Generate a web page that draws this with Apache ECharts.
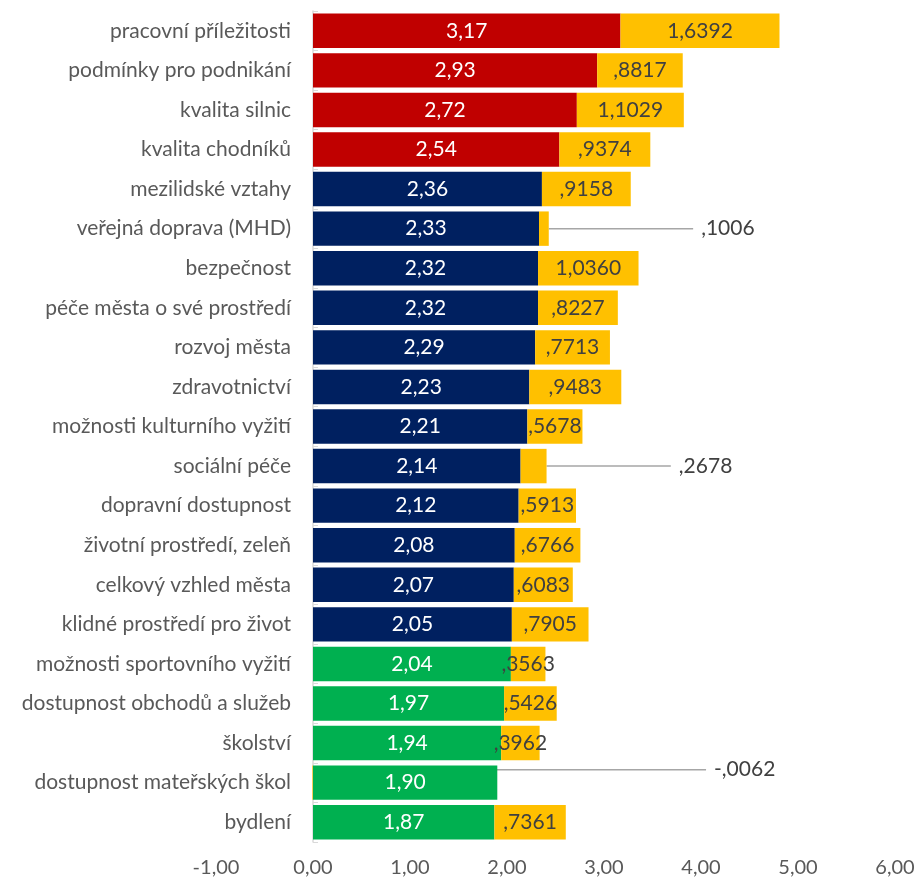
<!DOCTYPE html>
<html>
<head>
<meta charset="utf-8">
<script src="https://cdn.jsdelivr.net/npm/echarts@6/dist/echarts.min.js"></script>
<style>
  html, body { margin: 0; padding: 0; background: #fff; }
  #main { width: 917px; height: 882px; }
</style>
</head>
<body>
<div id="main"></div>
<script>
// kategorie shora dolů
var categories = [
  'pracovní příležitosti', 'podmínky pro podnikání', 'kvalita silnic', 'kvalita chodníků',
  'mezilidské vztahy', 'veřejná doprava (MHD)', 'bezpečnost', 'péče města o své prostředí',
  'rozvoj města', 'zdravotnictví', 'možnosti kulturního vyžití', 'sociální péče',
  'dopravní dostupnost', 'životní prostředí, zeleň', 'celkový vzhled města',
  'klidné prostředí pro život', 'možnosti sportovního vyžití', 'dostupnost obchodů a služeb',
  'školství', 'dostupnost mateřských škol', 'bydlení'
];
// průměrné hodnocení
var meanValues = [3.17, 2.93, 2.72, 2.54, 2.36, 2.33, 2.32, 2.32, 2.29, 2.23, 2.21,
  2.14, 2.12, 2.08, 2.07, 2.05, 2.04, 1.97, 1.94, 1.90, 1.87];
// rozdíl (žlutá část)
var diffValues = [1.6392, 0.8817, 1.1029, 0.9374, 0.9158, 0.1006, 1.0360, 0.8227, 0.7713,
  0.9483, 0.5678, 0.2678, 0.5913, 0.6766, 0.6083, 0.7905, 0.3563, 0.5426, 0.3962, -0.0062, 0.7361];
// skupina: 0 = nejhorší, 1 = střed, 2 = nejlepší
var tiers = [0, 0, 0, 0, 1, 1, 1, 1, 1, 1, 1, 1, 1, 1, 1, 1, 2, 2, 2, 2, 2];
var xTicks = { min: -1, max: 6, step: 1 };

var tierColors = ['#C00000', '#002060', '#00B050'];
var FONT = 'Lato, "Open Sans", sans-serif';

var W = 917, GRID_LEFT = 216, GRID_RIGHT = 22;
// svislá osa leží na nule -> posun os. popisků k ní
var unit = (W - GRID_LEFT - GRID_RIGHT) / (xTicks.max - xTicks.min);
var yAxisOffset = -(0 - xTicks.min) * unit;

// posun popisků s vodicí čarou (malé hodnoty)
var movedLabels = { 5: { dx: 180, dy: 0 }, 11: { dx: 168, dy: 0 }, 19: { dx: 428, dy: -13 } };

function fmt2(v) { return v.toFixed(2).replace('.', ','); }
function fmt4(v) {
  var s = Math.abs(v).toFixed(4).replace('.', ',');
  if (s.charAt(0) === '0') s = s.slice(1);
  return (v < 0 ? '-' : '') + s;
}

var myChart = echarts.init(document.getElementById('main'));

var option = {
  animation: false,
  grid: { left: GRID_LEFT, right: GRID_RIGHT, top: 11, bottom: 40, containLabel: false, outerBoundsMode: 'none' },
  xAxis: {
    type: 'value',
    min: xTicks.min,
    max: xTicks.max,
    interval: xTicks.step,
    axisLine: { show: false },
    axisTick: { show: false },
    splitLine: { show: false },
    axisLabel: {
      formatter: function (v) { return fmt2(v); },
      color: '#595959',
      fontFamily: FONT,
      fontSize: 20,
      margin: 16
    }
  },
  yAxis: {
    type: 'category',
    inverse: true,
    data: categories,
    offset: yAxisOffset,
    axisLine: { show: true, onZero: false, lineStyle: { color: '#D9D9D9', width: 1.5 } },
    axisTick: { show: true, inside: true, length: 5, lineStyle: { color: '#D9D9D9' } },
    axisLabel: {
      color: '#595959',
      fontFamily: FONT,
      fontSize: 21,
      margin: 22
    }
  },
  series: [
    {
      name: 'průměr',
      type: 'bar',
      stack: 'a',
      barCategoryGap: '13%',
      data: meanValues.map(function (v, i) {
        return { value: v, itemStyle: { color: tierColors[tiers[i]] } };
      }),
      label: {
        show: true,
        position: 'inside',
        color: '#FFFFFF',
        fontFamily: FONT,
        fontSize: 21,
        formatter: function (p) { return fmt2(p.value); }
      }
    },
    {
      name: 'rozdíl',
      type: 'bar',
      stack: 'a',
      itemStyle: { color: '#FFC000' },
      data: diffValues.map(function (v, i) {
        var item = { value: v };
        if (movedLabels[i]) {
          item.labelLine = { show: true, lineStyle: { color: '#A6A6A6', width: 1.5 } };
          item.label = { padding: [0, 0, 0, 8], backgroundColor: 'rgba(255,255,255,0)' };
        }
        return item;
      }),
      label: {
        show: true,
        position: 'inside',
        color: '#404040',
        fontFamily: FONT,
        fontSize: 21,
        formatter: function (p) { return fmt4(p.value); }
      },
      labelLine: { show: false, lineStyle: { color: '#A6A6A6', width: 1.5 } },
      labelLayout: function (p) {
        var m = movedLabels[p.dataIndex];
        if (m) return { dx: m.dx, dy: m.dy };
        return {};
      }
    }
  ]
};

myChart.setOption(option);
</script>
</body>
</html>
